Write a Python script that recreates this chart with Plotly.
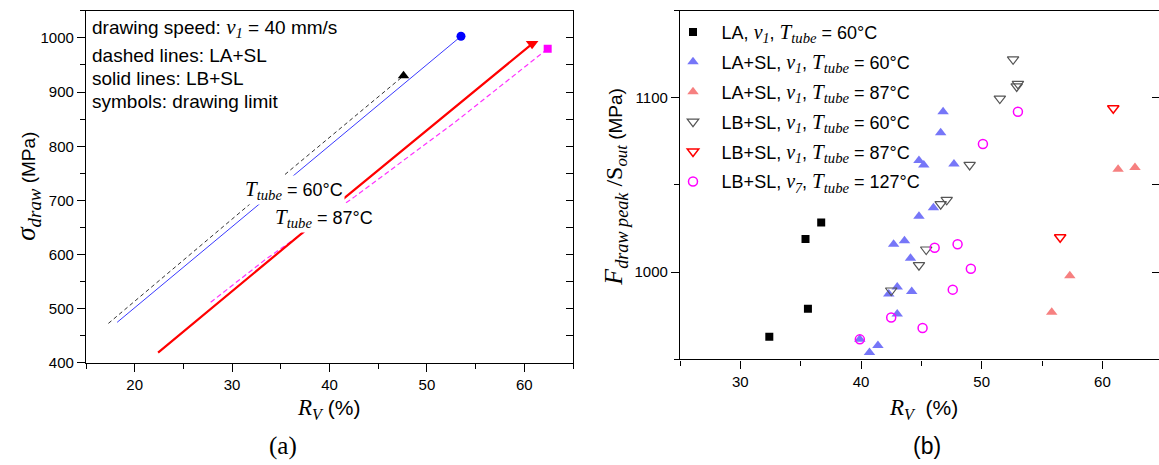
import plotly.graph_objects as go

W, H = 1159, 465
SERIF = "Liberation Serif"
SANS = "Liberation Sans"

# ---------------- panel (a) data: sigma_draw vs R_V ----------------
la_sl_60_rv = [17.3, 35.9, 47.6]
la_sl_60_sig = [473, 755, 930]
lb_sl_60_rv = [18.2, 36.6, 53.5]
lb_sl_60_sig = [475, 750, 1003]
lb_sl_87_rv = [22.4, 41.7, 60.8]
lb_sl_87_sig = [419, 707, 989]
la_sl_87_rv = [27.8, 33.5, 42.6, 53.0, 62.4]
la_sl_87_sig = [512, 592, 707, 846, 980]

# ---------------- panel (b) data: F_draw peak / S_out vs R_V ----------------
la60_rv = [32.4, 35.4, 35.6, 36.7]
la60_f = [963, 1019, 979, 1028.5]
lasl60_rv = [46.8, 46.6, 44.8, 45.2, 47.7, 46.0, 44.8, 42.7, 43.6, 44.1, 43.0, 42.3, 44.2, 43.0, 39.9, 41.4, 40.7]
lasl60_f = [1092, 1080, 1064, 1061.5, 1062, 1037, 1032, 1016, 1018, 1008, 991.5, 987.5, 989, 976, 961.5, 958, 954]
lasl87_rv = [61.3, 62.7, 57.3, 55.8]
lasl87_f = [1059, 1060, 998, 977]
lbsl60_rv = [52.6, 52.9, 53.0, 51.5, 49.0, 47.1, 46.6, 45.4, 44.8, 42.5]
lbsl60_f = [1122, 1106.5, 1108, 1099.5, 1061.5, 1041.5, 1039, 1013, 1004, 989.5]
lbsl87_rv = [60.9, 56.5]
lbsl87_f = [1094, 1020]
lbsl127_rv = [53.0, 50.1, 46.1, 48.0, 49.1, 47.6, 42.5, 45.1, 39.9]
lbsl127_f = [1092, 1073.5, 1014, 1016, 1002, 990, 974, 968, 961.5]


def px(x):
    return x / W


def py(y):
    return 1 - y / H


def ser(s, size=None):
    st = f"font-family:{SERIF}"
    if size:
        st += f";font-size:{size}px"
    return f'<span style="{st}">{s}</span>'


def v(n, size=20):
    return ser(f"<i>v</i><sub><i>{n}</i></sub>", size)


def ttube(size=21):
    return ser("<i>T</i><sub><i>tube</i></sub>", size)


PAD = "\u00a0\u2009"

fig = go.Figure()

# ---- panel (a) lines + limit symbols ----
fig.add_trace(go.Scatter(x=la_sl_60_rv, y=la_sl_60_sig, mode="lines", xaxis="x", yaxis="y",
                         line=dict(color="#333333", width=1, dash="4px,3px"), showlegend=False))
fig.add_trace(go.Scatter(x=lb_sl_60_rv, y=lb_sl_60_sig, mode="lines", xaxis="x", yaxis="y",
                         line=dict(color="#3a3aff", width=1), showlegend=False))
fig.add_trace(go.Scatter(x=la_sl_87_rv, y=la_sl_87_sig, mode="lines", xaxis="x", yaxis="y",
                         line=dict(color="#ff33ff", width=1.2, dash="5px,3px"), showlegend=False))
fig.add_trace(go.Scatter(x=lb_sl_87_rv, y=lb_sl_87_sig, mode="lines", xaxis="x", yaxis="y",
                         line=dict(color="#ff0000", width=2.2), showlegend=False))
fig.add_trace(go.Scatter(x=la_sl_60_rv[-1:], y=la_sl_60_sig[-1:], mode="markers", xaxis="x", yaxis="y",
                         marker=dict(symbol="triangle-up", size=10, color="black"), showlegend=False))
fig.add_trace(go.Scatter(x=lb_sl_60_rv[-1:], y=lb_sl_60_sig[-1:], mode="markers", xaxis="x", yaxis="y",
                         marker=dict(symbol="circle", size=9, color="#0000ff"), showlegend=False))
fig.add_trace(go.Scatter(x=la_sl_87_rv[-1:], y=la_sl_87_sig[-1:], mode="markers", xaxis="x", yaxis="y",
                         marker=dict(symbol="square", size=8, color="#ff00ff"), showlegend=False))
fig.add_trace(go.Scatter(x=lb_sl_87_rv[-1:], y=lb_sl_87_sig[-1:], mode="markers", xaxis="x", yaxis="y",
                         marker=dict(symbol="triangle-down", size=11, color="#ff0000"), showlegend=False))

# ---- panel (b) scatter ----
fig.add_trace(go.Scatter(x=la60_rv, y=la60_f, mode="markers", xaxis="x2", yaxis="y2", legendgroup="g1",
                         name=PAD + "LA, " + v(1) + ", " + ttube() + " = 60°C",
                         marker=dict(symbol="square", size=8, color="black")))
fig.add_trace(go.Scatter(x=lasl60_rv, y=lasl60_f, mode="markers", xaxis="x2", yaxis="y2", legendgroup="g2",
                         name=PAD + "LA+SL, " + v(1) + ", " + ttube() + " = 60°C",
                         marker=dict(symbol="triangle-up", size=10, color="rgb(118,118,248)")))
fig.add_trace(go.Scatter(x=lasl87_rv, y=lasl87_f, mode="markers", xaxis="x2", yaxis="y2", legendgroup="g3",
                         name=PAD + "LA+SL, " + v(1) + ", " + ttube() + " = 87°C",
                         marker=dict(symbol="triangle-up", size=10, color="rgb(246,128,128)")))
fig.add_trace(go.Scatter(x=lbsl60_rv, y=lbsl60_f, mode="markers", xaxis="x2", yaxis="y2", legendgroup="g4",
                         name=PAD + "LB+SL, " + v(1) + ", " + ttube() + " = 60°C",
                         marker=dict(symbol="triangle-down-open", size=10, color="#555555",
                                     line=dict(width=1.2))))
fig.add_trace(go.Scatter(x=lbsl87_rv, y=lbsl87_f, mode="markers", xaxis="x2", yaxis="y2", legendgroup="g5",
                         name=PAD + "LB+SL, " + v(1) + ", " + ttube() + " = 87°C",
                         marker=dict(symbol="triangle-down-open", size=10, color="#ff0000",
                                     line=dict(width=1.5))))
fig.add_trace(go.Scatter(x=lbsl127_rv, y=lbsl127_f, mode="markers", xaxis="x2", yaxis="y2", legendgroup="g6",
                         name=PAD + "LB+SL, " + v(7) + ", " + ttube() + " = 127°C",
                         marker=dict(symbol="circle-open", size=9, color="#ff00ff",
                                     line=dict(width=1.5))))

# dummy traces so the right-hand tick axes are drawn
fig.add_trace(go.Scatter(x=[None], y=[None], xaxis="x", yaxis="y3", showlegend=False, hoverinfo="skip"))
fig.add_trace(go.Scatter(x=[None], y=[None], xaxis="x2", yaxis="y4", showlegend=False, hoverinfo="skip"))

tickfont = dict(family=SANS, size=15, color="black")
common_axis = dict(showline=True, linecolor="black", linewidth=1.3, showgrid=False, zeroline=False,
                   ticks="outside", ticklen=8, tickwidth=1.2, tickcolor="black", tickfont=tickfont)

fig.update_layout(
    width=W, height=H,
    margin=dict(l=0, r=0, t=0, b=0),
    paper_bgcolor="white", plot_bgcolor="white",
    font=dict(family=SANS, size=15, color="black"),
    xaxis=dict(domain=[px(86), px(573)], range=[15, 65], anchor="y", dtick=10, tick0=0, mirror=True,
               minor=dict(dtick=5, tick0=0, ticks="outside", ticklen=5, tickcolor="black"),
               **common_axis),
    yaxis=dict(domain=[py(369.3), py(11)], range=[400, 1050], anchor="x", dtick=100, tick0=0, mirror=True,
               minor=dict(dtick=50, tick0=0, ticks="outside", ticklen=5, tickcolor="black"),
               **common_axis),
    yaxis3=dict(overlaying="y", side="right", anchor="x", range=[400, 1050], dtick=50, tick0=0,
                ticks="inside", ticklen=7, tickwidth=1.2, tickcolor="black", showticklabels=False,
                showline=False, showgrid=False, zeroline=False),
    xaxis2=dict(domain=[px(680), 1.0], range=[25, 64.69], anchor="y2", dtick=10, tick0=0, mirror=True,
                minor=dict(dtick=5, tick0=0, ticks="outside", ticklen=5, tickcolor="black"),
                **common_axis),
    yaxis2=dict(domain=[py(365.7), py(10.7)], range=[950, 1150], anchor="x2", dtick=100, tick0=0,
                minor=dict(dtick=50, tick0=0, ticks="outside", ticklen=5, tickcolor="black"),
                **common_axis),
    yaxis4=dict(overlaying="y2", side="right", anchor="x2", range=[950, 1150], dtick=50, tick0=0,
                ticks="inside", ticklen=7, tickwidth=1.2, tickcolor="black", showticklabels=False,
                showline=False, showgrid=False, zeroline=False),
    legend=dict(x=px(673), y=py(14), xanchor="left", yanchor="top", bgcolor="rgba(0,0,0,0)",
                font=dict(family=SANS, size=18, color="black"), itemsizing="trace",
                tracegroupgap=3.5),
    showlegend=True,
)

ann = []


def add(text, x, y, xanchor="center", yanchor="middle", size=19, family=SANS, angle=0, bg=None):
    d = dict(text=text, x=px(x), y=py(y), xref="paper", yref="paper", showarrow=False,
             xanchor=xanchor, yanchor=yanchor, textangle=angle,
             font=dict(family=family, size=size, color="black"))
    if bg:
        d.update(bgcolor=bg, borderpad=1)
    ann.append(d)


# panel (a) notes
add("drawing speed: " + v(1, 21) + " = 40 mm/s", 90, 28, xanchor="left")
add("dashed lines: LA+SL", 90, 56, xanchor="left")
add("solid lines: LB+SL", 90, 80, xanchor="left")
add("symbols: drawing limit", 90, 103, xanchor="left")
add(ttube(21) + " = 60°C", 294, 193, size=18, bg="white")
add(ttube(21) + " = 87°C", 324, 222, size=18, bg="white")

# axis titles
add(ser("<i>R</i><sub><i>V</i></sub>", 23) + " (%)", 329, 416, size=21)
add(ser("<i>R</i><sub><i>V</i></sub>", 23) + "  (%)", 923, 416, size=21)
add(ser("<i>σ</i><sub><i>draw</i></sub>", 27) + " (MPa)", 28, 190, size=19, angle=-90)
add(ser("<i>F</i><sub><i>draw peak</i></sub>", 26) + ser(" /S<sub><i>out</i></sub>", 24) + " (MPa)",
    615, 190, size=19, angle=-90)

# panel labels
add("(a)", 283, 454, size=25, family=SERIF)
add("(b)", 927, 454, size=23, family=SANS)

fig.update_layout(annotations=ann)

fig.write_html("out.html")
